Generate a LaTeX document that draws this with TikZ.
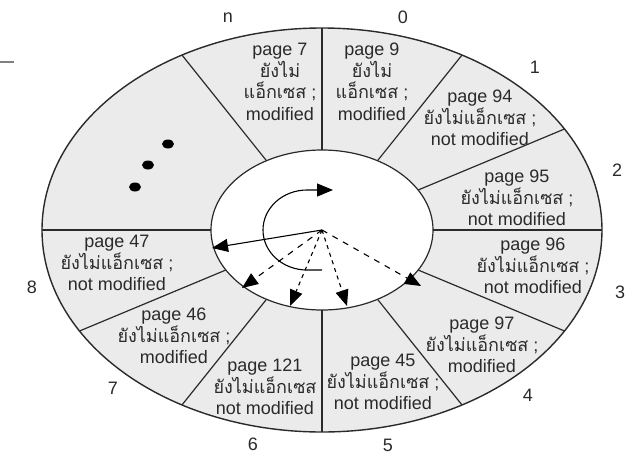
\documentclass[tikz,border=0pt]{standalone}
\usepackage{fontspec}
\usepackage{tikz}
\usetikzlibrary{arrows.meta}
\setmainfont{Liberation Sans}
\newfontfamily\thaifont[Script=Thai]{Loma}
\definecolor{ringfill}{HTML}{EBEBEB}
\definecolor{inkgray}{HTML}{2A2A2A}

\begin{document}
\begin{tikzpicture}[
    x=1pt, y=1pt,
    font=\fontsize{18}{21.5}\selectfont,
    pageinfo/.style={align=center, inner sep=0pt, text=inkgray},
    slotnum/.style={inner sep=0pt, text=inkgray},
    spoke/.style={draw=inkgray, line width=1.2pt},
    hand/.style={-{Triangle[length=16pt,width=13pt]}, line width=1.1pt, draw=black}
]
  \useasboundingbox (-322,-226) rectangle (309,230);

  % ring of frames
  \draw[draw=inkgray, fill=ringfill, line width=1.4pt] (0,0) ellipse [x radius=280, y radius=202];
  \draw[draw=inkgray, fill=white, line width=1.2pt] (0,0) ellipse [x radius=111, y radius=80];
  \foreach \a in {90,60,30,0,-30,-60,-90,-120,-150,180,120}
    \draw[spoke] (\a:111 and 80) -- (\a:280 and 202);

  \draw[draw=gray, line width=1.4pt] (-322,168) -- (-308,168);

  % unused slots
  \fill (-154,86) ellipse [x radius=6, y radius=4.5];
  \fill (-174,65) ellipse [x radius=6, y radius=4.5];
  \fill (-187,43) ellipse [x radius=6, y radius=4.5];

  % page entries
  \node[pageinfo] (p7)   at (-42,148)  {page 7\\{\thaifont ยังไม่}\\{\thaifont แอ็กเซส} ;\\modified};
  \node[pageinfo] (p9)   at (50,148)   {page 9\\{\thaifont ยังไม่}\\{\thaifont แอ็กเซส} ;\\modified};
  \node[pageinfo] (p94)  at (158,112)  {page 94\\{\thaifont ยังไม่แอ็กเซส} ;\\not modified};
  \node[pageinfo] (p95)  at (195,32)   {page 95\\{\thaifont ยังไม่แอ็กเซส} ;\\not modified};
  \node[pageinfo] (p96)  at (211,-36)  {page 96\\{\thaifont ยังไม่แอ็กเซส} ;\\not modified};
  \node[pageinfo] (p97)  at (160,-115) {page 97\\{\thaifont ยังไม่แอ็กเซส} ;\\modified};
  \node[pageinfo] (p45)  at (61,-152)  {page 45\\{\thaifont ยังไม่แอ็กเซส} ;\\not modified};
  \node[pageinfo] (p121) at (-57,-157) {page 121\\{\thaifont ยังไม่แอ็กเซส}\\not modified};
  \node[pageinfo] (p46)  at (-148,-106) {page 46\\{\thaifont ยังไม่แอ็กเซส} ;\\modified};
  \node[pageinfo] (p47)  at (-205,-33) {page 47\\{\thaifont ยังไม่แอ็กเซส} ;\\not modified};

  % slot numbers
  \node[slotnum] (sn) at (-94,212)  {n};
  \node[slotnum] (s0) at (81,213)   {0};
  \node[slotnum] (s1) at (213,163)  {1};
  \node[slotnum] (s2) at (295,60)   {2};
  \node[slotnum] (s3) at (298,-62)  {3};
  \node[slotnum] (s4) at (206,-165) {4};
  \node[slotnum] (s5) at (66,-215)  {5};
  \node[slotnum] (s6) at (-69,-214) {6};
  \node[slotnum] (s7) at (-209,-158) {7};
  \node[slotnum] (s8) at (-290,-57) {8};

  % clock hands
  \coordinate (hub) at (0,0);
  \coordinate (cur) at (-110,-18);
  \coordinate (nx1) at (-80,-58);
  \coordinate (nx2) at (-32,-76);
  \coordinate (nx3) at (25,-76);
  \coordinate (nx4) at (99,-56);
  \draw[hand] (0,-40) -- (-15,-40) arc[start angle=270, end angle=90, x radius=44, y radius=40] -- (11,40);
  \draw[hand] (hub) -- (cur);
  \draw[hand, dash pattern=on 6pt off 6pt] (hub) -- (nx1);
  \draw[hand, dash pattern=on 4pt off 4pt] (hub) -- (nx2);
  \draw[hand, dash pattern=on 4pt off 4pt] (hub) -- (nx3);
  \draw[hand, dash pattern=on 6pt off 6pt] (hub) -- (nx4);
\end{tikzpicture}
\end{document}
